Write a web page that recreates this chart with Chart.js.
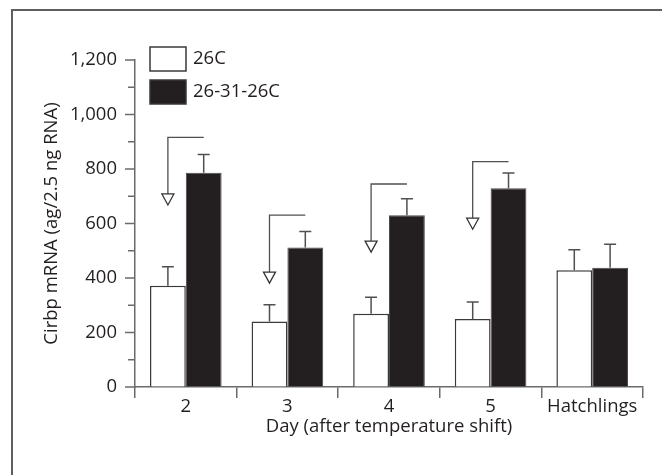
<!DOCTYPE html>
<html>
<head>
<meta charset="utf-8">
<script src="https://cdn.jsdelivr.net/npm/chart.js@4"></script>
<style>
  body { margin: 0; background: #fff; }
  canvas { display: block; }
</style>
</head>
<body>
<canvas id="cirbpChart" width="662" height="475"></canvas>
<script>
// values
var categories = ['2', '3', '4', '5', 'Hatchlings'];
var seriesNames = ['26C', '26-31-26C'];
var constValues = [372, 240, 269, 250, 428];
var constErrors = [69, 62, 60, 62, 76];
var shiftValues = [786, 512, 630, 729, 438];
var shiftErrors = [67, 59, 61, 56, 86];
// bracket arrows (top of bracket, tip of arrow), in y units
var bracketTop = [916, 631, 745, 827, null];
var arrowTip = [668, 381, 495, 579, null];

var ink = '#231f20';
var lineGray = '#6a6a6a';

var framePlugin = {
    id: 'frame',
    beforeDraw: function (chart) {
        var ctx = chart.ctx;
        ctx.save();
        ctx.fillStyle = '#fff';
        ctx.fillRect(0, 0, chart.width, chart.height);
        ctx.strokeStyle = '#5e5e5e';
        ctx.lineWidth = 2;
        ctx.beginPath();
        ctx.moveTo(12, chart.height);
        ctx.lineTo(12, 10);
        ctx.lineTo(chart.width, 10);
        ctx.stroke();
        ctx.restore();
    }
};

var yTicksPlugin = {
    id: 'yTicks',
    afterDraw: function (chart) {
        var ctx = chart.ctx;
        var y = chart.scales.y;
        ctx.save();
        ctx.strokeStyle = lineGray;
        ctx.lineWidth = 1.5;
        y.ticks.forEach(function (t) {
            var py = y.getPixelForValue(t.value);
            var len = t.value % 200 === 0 ? 10 : 7;
            ctx.beginPath();
            ctx.moveTo(y.right - len, py);
            ctx.lineTo(y.right, py);
            ctx.stroke();
        });
        ctx.restore();
    }
};

var errorBarPlugin = {
    id: 'errorBars',
    afterDatasetsDraw: function (chart) {
        var ctx = chart.ctx;
        var y = chart.scales.y;
        var errs = [constErrors, shiftErrors];
        ctx.save();
        ctx.strokeStyle = '#505050';
        ctx.lineWidth = 1.5;
        chart.data.datasets.forEach(function (ds, i) {
            var meta = chart.getDatasetMeta(i);
            meta.data.forEach(function (bar, j) {
                var top = y.getPixelForValue(ds.data[j] + errs[i][j]);
                ctx.beginPath();
                ctx.moveTo(bar.x, bar.y);
                ctx.lineTo(bar.x, top);
                ctx.moveTo(bar.x - 6, top);
                ctx.lineTo(bar.x + 6, top);
                ctx.stroke();
            });
        });
        ctx.restore();
    }
};

var arrowPlugin = {
    id: 'arrows',
    afterDatasetsDraw: function (chart) {
        var ctx = chart.ctx;
        var y = chart.scales.y;
        var white = chart.getDatasetMeta(0).data;
        var black = chart.getDatasetMeta(1).data;
        ctx.save();
        ctx.strokeStyle = '#505050';
        ctx.lineWidth = 1.3;
        for (var j = 0; j < categories.length; j++) {
            if (bracketTop[j] == null) continue;
            var xw = white[j].x, xb = black[j].x;
            var yh = y.getPixelForValue(bracketTop[j]);
            var yt = y.getPixelForValue(arrowTip[j]);
            ctx.beginPath();
            ctx.moveTo(xb, yh);
            ctx.lineTo(xw, yh);
            ctx.lineTo(xw, yt - 11);
            ctx.stroke();
            ctx.beginPath();
            ctx.moveTo(xw - 6, yt - 11);
            ctx.lineTo(xw + 6, yt - 11);
            ctx.lineTo(xw, yt);
            ctx.closePath();
            ctx.fillStyle = '#fff';
            ctx.fill();
            ctx.strokeStyle = '#333';
            ctx.stroke();
            ctx.strokeStyle = '#505050';
        }
        ctx.restore();
    }
};

var legendPlugin = {
    id: 'boxLegend',
    afterDraw: function (chart) {
        var ctx = chart.ctx;
        var fills = ['#fff', ink];
        ctx.save();
        ctx.font = '18.5px "Open Sans"';
        ctx.textBaseline = 'middle';
        ctx.textAlign = 'left';
        seriesNames.forEach(function (name, i) {
            var top = 47 + i * 33;
            ctx.fillStyle = fills[i];
            ctx.fillRect(150, top, 36, 24);
            ctx.strokeStyle = '#3a3a3a';
            ctx.lineWidth = 1.5;
            ctx.strokeRect(150, top, 36, 24);
            ctx.fillStyle = ink;
            ctx.fillText(name, 193, top + 12);
        });
        ctx.restore();
    }
};

Chart.defaults.font.family = '"Open Sans"';
Chart.defaults.font.size = 18.5;
Chart.defaults.color = ink;

new Chart(document.getElementById('cirbpChart'), {
    type: 'bar',
    data: {
        labels: categories,
        datasets: [{
            label: seriesNames[0],
            data: constValues,
            backgroundColor: '#fff',
            borderColor: '#3a3a3a',
            borderWidth: 1.5
        }, {
            label: seriesNames[1],
            data: shiftValues,
            backgroundColor: ink,
            borderColor: '#4a4a4a',
            borderWidth: 1
        }]
    },
    options: {
        responsive: false,
        animation: false,
        events: [],
        layout: { padding: { top: 60, left: 0, right: 19, bottom: 0 } },
        categoryPercentage: 0.705,
        barPercentage: 1,
        plugins: {
            legend: { display: false },
            tooltip: { enabled: false }
        },
        scales: {
            x: {
                grid: {
                    offset: true,
                    drawOnChartArea: false,
                    drawTicks: true,
                    tickLength: 11,
                    color: lineGray,
                    lineWidth: 1.5
                },
                border: { color: lineGray, width: 1.5 },
                ticks: { padding: -2, color: ink },
                title: {
                    display: true,
                    text: 'Day (after temperature shift)',
                    color: ink,
                    padding: { top: 0, bottom: 37 }
                },
                afterFit: function (s) { s.height = 88; }
            },
            y: {
                min: 0,
                max: 1200,
                grid: { drawOnChartArea: false, drawTicks: false },
                border: { color: lineGray, width: 1.5 },
                ticks: {
                    stepSize: 100,
                    autoSkip: false,
                    padding: 18,
                    color: ink,
                    callback: function (v) {
                        return v % 200 === 0 ? v.toLocaleString('en-US') : '';
                    }
                },
                title: {
                    display: true,
                    text: 'Cirbp mRNA (ag/2.5 ng RNA)',
                    color: ink,
                    padding: { top: 41, bottom: 0 }
                },
                afterFit: function (s) { s.width = 135; }
            }
        }
    },
    plugins: [framePlugin, yTicksPlugin, errorBarPlugin, arrowPlugin, legendPlugin]
});
</script>
</body>
</html>
